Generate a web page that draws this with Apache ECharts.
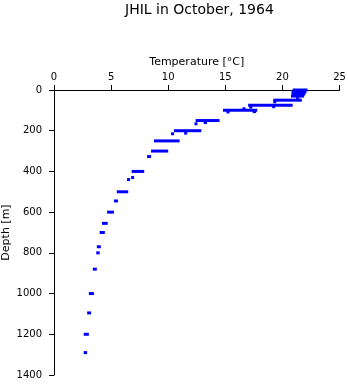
<!DOCTYPE html>
<html>
<head>
<meta charset="utf-8">
<script src="https://cdn.jsdelivr.net/npm/echarts@6/dist/echarts.min.js"></script>
<style>html,body{margin:0;padding:0;background:#fff;}#c{width:348px;height:384px;}</style>
</head>
<body>
<div id="c"></div>
<script>
// Depth levels [m] and temperature spread [°C] observed at each level
var depths = [0, 10, 20, 30, 42, 50, 58, 75, 84, 82, 92, 100, 108, 106, 150, 160, 166, 200, 212, 215, 250, 300, 327, 400, 430, 440, 500, 545, 600, 655, 700, 770, 800, 880, 1000, 1095, 1200, 1290];
var tMin   = [20.9, 20.8, 20.8, 20.75, 21.2, 19.2, 19.2, 17.0, 17.1, 19.1, 16.5, 14.8, 15.1, 17.4, 12.4, 13.1, 12.3, 10.5, 11.4, 10.25, 8.75, 8.5, 8.15, 6.8, 6.75, 6.4, 5.5, 5.25, 4.65, 4.2, 4.0, 3.75, 3.7, 3.4, 3.05, 2.9, 2.6, 2.6];
var tMax   = [22.2, 22.1, 22.0, 21.9, 21.4, 21.7, 19.35, 20.9, 17.3, 19.35, 16.7, 17.8, 15.25, 17.7, 14.5, 13.4, 12.5, 12.9, 11.6, 10.5, 11.0, 10.0, 8.5, 7.9, 7.0, 6.65, 6.5, 5.6, 5.25, 4.7, 4.45, 4.1, 4.0, 3.75, 3.5, 3.25, 3.05, 2.9];
var titleText = 'JHIL in October, 1964';
var xName = 'Temperature [°C]';
var yName = 'Depth [m]';

var data = depths.map(function (d, i) { return [tMin[i], d, tMax[i]]; });
var FONT = 'DejaVu Sans';
function plain(v) { return String(v); }

var chart = echarts.init(document.getElementById('c'), null, {renderer: 'canvas'});
chart.setOption({
  animation: false,
  backgroundColor: '#ffffff',
  title: {
    text: titleText,
    left: 120, top: -2,
    textStyle: {fontFamily: FONT, fontSize: 14, fontWeight: 'normal', color: '#000'}
  },
  grid: {left: 54, right: 8.5, top: 90, bottom: 9, containLabel: false, outerBoundsMode: 'none'},
  xAxis: {
    type: 'value', position: 'top', min: 0, max: 25, interval: 5,
    name: xName, nameLocation: 'middle', nameGap: 22, nameMoveOverlap: false,
    nameTextStyle: {fontFamily: FONT, fontSize: 11, color: '#000'},
    axisLine: {show: true, lineStyle: {color: '#000', width: 1}},
    axisTick: {show: true, length: 5, lineStyle: {color: '#000'}},
    axisLabel: {margin: 8, fontFamily: FONT, fontSize: 10, color: '#000', formatter: plain},
    splitLine: {show: false}
  },
  yAxis: {
    type: 'value', inverse: true, min: 0, max: 1400, interval: 200,
    name: yName, nameLocation: 'middle', nameGap: 42, nameMoveOverlap: false,
    nameTextStyle: {fontFamily: FONT, fontSize: 11, color: '#000'},
    axisLine: {show: true, lineStyle: {color: '#000', width: 1}},
    axisTick: {show: true, length: 5, lineStyle: {color: '#000'}},
    axisLabel: {margin: 12, fontFamily: FONT, fontSize: 10, color: '#000', formatter: plain},
    splitLine: {show: false}
  },
  series: [{
    type: 'custom',
    encode: {x: [0, 2], y: 1},
    data: data,
    renderItem: function (params, api) {
      var a = api.coord([api.value(0), api.value(1)]);
      var b = api.coord([api.value(2), api.value(1)]);
      var w = Math.max(3, b[0] - a[0]);
      return {
        type: 'rect',
        shape: {x: a[0], y: a[1] - 1.5, width: w, height: 3},
        style: {fill: '#0000ff'}
      };
    }
  }]
});
</script>
</body>
</html>
